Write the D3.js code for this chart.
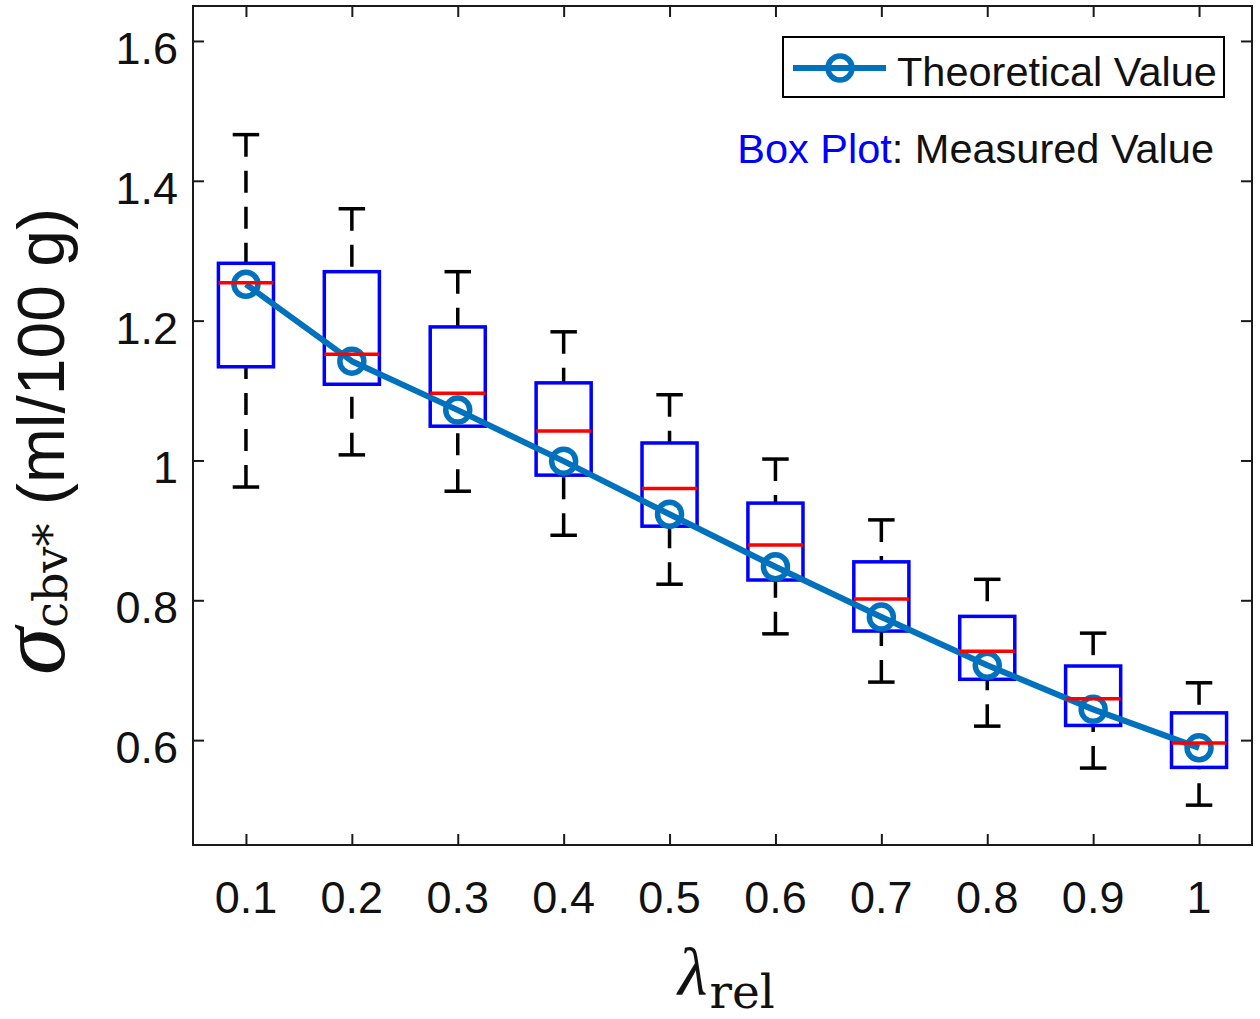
<!DOCTYPE html>
<html>
<head>
<meta charset="utf-8">
<script src="https://cdn.jsdelivr.net/npm/d3@7"></script>
<style>
  body { margin: 0; background: #fff; }
  svg { display: block; }
</style>
</head>
<body>
<svg id="chart" width="1260" height="1019"></svg>
<script>
// ---- data ----
const lambdaRel = [0.1, 0.2, 0.3, 0.4, 0.5, 0.6, 0.7, 0.8, 0.9, 1.0];
const theoretical = [1.252, 1.142, 1.072, 0.999, 0.923, 0.848, 0.776, 0.707, 0.644, 0.589];
const whiskerHigh = [1.466, 1.360, 1.270, 1.184, 1.094, 1.002, 0.915, 0.830, 0.753, 0.682];
const q3 = [1.282, 1.270, 1.191, 1.111, 1.025, 0.939, 0.855, 0.777, 0.706, 0.639];
const median = [1.254, 1.152, 1.096, 1.042, 0.960, 0.879, 0.802, 0.727, 0.659, 0.596];
const q1 = [1.134, 1.109, 1.049, 0.979, 0.906, 0.829, 0.756, 0.687, 0.621, 0.561];
const whiskerLow = [0.962, 1.008, 0.956, 0.893, 0.823, 0.752, 0.683, 0.620, 0.560, 0.507];
const yTicks = [0.6, 0.8, 1.0, 1.2, 1.4, 1.6];
const xTickLabels = ["0.1", "0.2", "0.3", "0.4", "0.5", "0.6", "0.7", "0.8", "0.9", "1"];

const svg = d3.select("#chart");
const L = 193, R = 1252, T = 6, B = 845;
const x = d3.scaleLinear().domain([0.05, 1.05]).range([L, R]);
const y = d3.scaleLinear().domain([0.45, 1.65]).range([B, T]);
const font = "'Liberation Sans', Arial, sans-serif";
const serif = "'Liberation Serif', 'Times New Roman', serif";
const serif2 = "'DejaVu Serif', 'Liberation Serif', serif";
const tickLen = 11;
const axisColor = "#1a1a1a";

const boxHalf = 0.026, capHalf = 0.0125;
const data = lambdaRel.map((l, i) => ({ l, hi: whiskerHigh[i], q3: q3[i], med: median[i], q1: q1[i], lo: whiskerLow[i], th: theoretical[i], label: xTickLabels[i] }));

// axes frame
svg.append("rect").attr("x", L).attr("y", T).attr("width", R - L).attr("height", B - T)
  .attr("fill", "none").attr("stroke", axisColor).attr("stroke-width", 2);

// ticks via d3 axes (inward)
const axB = d3.axisBottom(x).tickValues(lambdaRel).tickSize(-tickLen).tickFormat("");
const axT = d3.axisTop(x).tickValues(lambdaRel).tickSize(-tickLen).tickFormat("");
const axL = d3.axisLeft(y).tickValues(yTicks).tickSize(-tickLen).tickFormat("");
const axR = d3.axisRight(y).tickValues(yTicks).tickSize(-tickLen).tickFormat("");
[[axB, `translate(0,${B})`], [axT, `translate(0,${T})`], [axL, `translate(${L},0)`], [axR, `translate(${R},0)`]].forEach(([ax, tr]) => {
  const g = svg.append("g").attr("transform", tr).call(ax);
  g.select(".domain").remove();
  g.selectAll("line").attr("stroke", axisColor).attr("stroke-width", 2);
});

// tick labels
svg.append("g").selectAll("text").data(data).join("text")
  .attr("x", d => x(d.l)).attr("y", 913)
  .attr("text-anchor", "middle").attr("font-family", font).attr("font-size", 45).attr("fill", "#111")
  .text(d => d.label);
svg.append("g").selectAll("text").data(yTicks).join("text")
  .attr("x", 178).attr("y", d => y(d) + 23)
  .attr("text-anchor", "end").attr("font-family", font).attr("font-size", 45).attr("fill", "#111")
  .text(d => d3.format("~g")(d));

// box plots
const bp = svg.append("g");
data.forEach(d => {
  const cx = x(d.l);
  bp.append("line").attr("x1", cx).attr("x2", cx).attr("y1", y(d.hi)).attr("y2", y(d.q3))
    .attr("stroke", "#000").attr("stroke-width", 3.5).attr("stroke-dasharray", "22,14");
  bp.append("line").attr("x1", cx).attr("x2", cx).attr("y1", y(d.lo)).attr("y2", y(d.q1))
    .attr("stroke", "#000").attr("stroke-width", 3.5).attr("stroke-dasharray", "22,14");
  [d.hi, d.lo].forEach(v => {
    bp.append("line").attr("x1", x(d.l - capHalf)).attr("x2", x(d.l + capHalf)).attr("y1", y(v)).attr("y2", y(v))
      .attr("stroke", "#000").attr("stroke-width", 3.5);
  });
  bp.append("rect").attr("x", x(d.l - boxHalf)).attr("y", y(d.q3))
    .attr("width", x(d.l + boxHalf) - x(d.l - boxHalf)).attr("height", y(d.q1) - y(d.q3))
    .attr("fill", "none").attr("stroke", "#0000ff").attr("stroke-width", 3.5);
});

// theoretical line
const lineColor = "#0072bd";
svg.append("path").datum(data)
  .attr("d", d3.line().x(d => x(d.l)).y(d => y(d.th)))
  .attr("fill", "none").attr("stroke", lineColor).attr("stroke-width", 6).attr("stroke-linejoin", "round");
svg.append("g").selectAll("circle").data(data).join("circle")
  .attr("cx", d => x(d.l)).attr("cy", d => y(d.th)).attr("r", 12)
  .attr("fill", "none").attr("stroke", lineColor).attr("stroke-width", 5.5);

// medians on top
svg.append("g").selectAll("line").data(data).join("line")
  .attr("x1", d => x(d.l - boxHalf)).attr("x2", d => x(d.l + boxHalf))
  .attr("y1", d => y(d.med)).attr("y2", d => y(d.med))
  .attr("stroke", "#ff0000").attr("stroke-width", 3.5);

// legend
const lg = svg.append("g");
lg.append("rect").attr("x", 783).attr("y", 37).attr("width", 441).attr("height", 60)
  .attr("fill", "#fff").attr("stroke", "#000").attr("stroke-width", 2);
lg.append("line").attr("x1", 793).attr("x2", 886).attr("y1", 68).attr("y2", 68)
  .attr("stroke", lineColor).attr("stroke-width", 6);
lg.append("circle").attr("cx", 840).attr("cy", 68).attr("r", 12)
  .attr("fill", "none").attr("stroke", lineColor).attr("stroke-width", 5.5);
lg.append("text").attr("x", 897).attr("y", 86).attr("font-family", font).attr("font-size", 41.5).attr("fill", "#111")
  .text("Theoretical Value");

const note = svg.append("text").attr("x", 1214).attr("y", 163).attr("text-anchor", "end")
  .attr("font-family", font).attr("font-size", 41.5);
note.append("tspan").attr("fill", "#0000ff").text("Box Plot");
note.append("tspan").attr("fill", "#111").text(": Measured Value");

// x label
const xl = svg.append("text").attr("x", 678).attr("y", 995).attr("fill", "#111");
xl.append("tspan").attr("font-family", serif).attr("font-style", "italic").attr("font-size", 68).text("λ");
xl.append("tspan").attr("font-family", serif2).attr("font-size", 47).attr("dx", 2).attr("dy", 13).text("rel");

// y label (rotated, anchored at its top end)
const yl = svg.append("text").attr("transform", "translate(64,208) rotate(-90)")
  .attr("text-anchor", "end").attr("fill", "#111");
yl.append("tspan").attr("font-family", serif).attr("font-style", "italic").attr("font-size", 96).text("σ");
yl.append("tspan").attr("font-family", serif2).attr("font-size", 46).attr("dy", 3).text("cbv*");
yl.append("tspan").attr("font-family", font).attr("font-size", 66).attr("dy", -3).text(" (ml/100 g)");
</script>
</body>
</html>
